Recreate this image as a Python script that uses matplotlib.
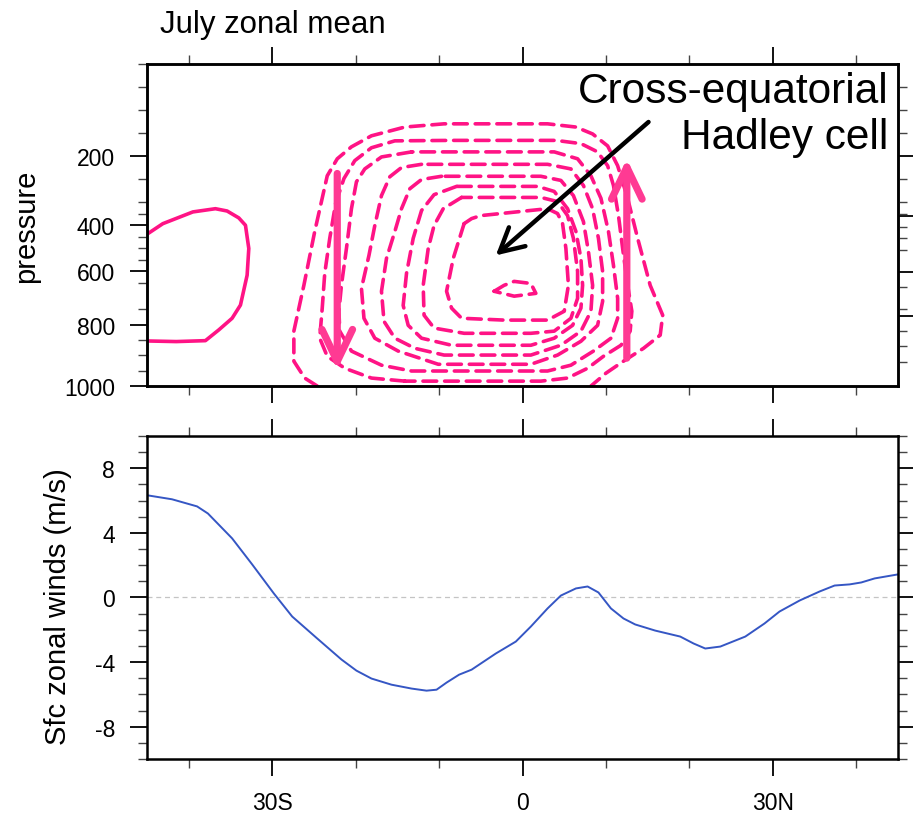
import numpy as np
import matplotlib
matplotlib.use('Agg')
from matplotlib import pyplot as plt
from matplotlib.ticker import FixedLocator, FuncFormatter, NullFormatter

plt.rcParams['font.family'] = ['Liberation Sans', 'DejaVu Sans']
plt.rcParams['axes.unicode_minus'] = False

# pressure levels of the data (axis is evenly spaced by level index)
levels_p = [0, 50, 100, 150, 200, 250, 300, 400, 500, 600, 700, 775, 850, 925, 1000]
level_idx = np.arange(len(levels_p))

# streamfunction contours (lat, hPa)
pos_lat = [-45.0, -43.1, -39.5, -36.8, -35.4, -34.0, -33.2, -32.8, -33.0, -33.8, -34.8, -36.4, -38.0, -41.5, -45.0]
pos_p = [440, 394, 343, 329, 339, 369, 401, 502, 618, 736, 779, 817, 852, 855, 853]

loop7_lat = [-24.6, -26.1, -27.4, -27.4, -26.2, -24.9, -23.4, -22.2, -20.5, -18.1, -14.1, -9.4, 3.0, 6.4, 8.4,
             10.2, 11.4, 12.6, 13.8, 15.3, 16.8, 16.5, 14.5, 12.1, 10.0, 8.2]
loop7_p = [1000, 974, 919, 821, 662, 428, 243, 206, 180, 156, 137, 130, 130, 137, 152,
           178, 221, 292, 458, 662, 769, 834, 877, 919, 958, 1000]
loop6_lat = [-14.1, -18.1, -21.3, -23.4, -24.3, -24.0, -23.7, -23.1, -22.4, -21.4, -20.1, -18.1, -15.3, -8.5, 4.0,
             7.0, 9.0, 10.2, 10.9, 11.5, 12.0, 12.6, 13.1, 12.9, 11.8, 9.7, 7.8, 5.4, 2.2]
loop6_p = [984, 974, 942, 903, 844, 746, 610, 458, 307, 249, 210, 182, 167, 166, 166,
           173, 191, 221, 264, 359, 502, 662, 756, 821, 867, 903, 942, 974, 984]
loop5_lat = [-13.3, -16.9, -18.9, -19.9, -20.5, -21.1, -21.7, -22.0, -21.9, -20.5, -16.9, -13.3,
             3.0, 5.8, 8.5, 10.6, 11.4, 11.4, 10.9, 10.3, 9.4, 8.2, 6.6, 3.8]
loop5_p = [191, 202, 228, 256, 329, 502, 662, 756, 821, 886, 932, 951,
           951, 932, 886, 844, 779, 714, 575, 428, 292, 243, 206, 191]
loop4_lat = [-12.1, -14.5, -15.9, -16.9, -17.7, -18.4, -19.3, -19.0, -17.7, -14.9, -10.1,
             1.0, 4.2, 7.0, 9.0, 9.6, 9.6, 9.1, 8.4, 7.3, 5.8, 3.0]
loop4_p = [218, 225, 245, 286, 402, 532, 675, 779, 844, 886, 929,
           929, 899, 854, 802, 724, 602, 458, 329, 264, 228, 218]
loop3_lat = [-9.7, -12.1, -13.5, -14.5, -15.3, -16.3, -16.9, -16.6, -15.3, -12.9, -9.4,
             1.0, 4.6, 7.0, 8.2, 8.4, 7.9, 7.3, 6.1, 4.6, 2.2]
loop3_p = [244, 251, 271, 329, 428, 545, 688, 789, 844, 877, 899,
           899, 867, 821, 756, 662, 515, 385, 286, 253, 244]
loop2_lat = [-7.9, -10.6, -12.1, -13.1, -13.9, -14.3, -13.7, -12.1, -8.5,
             1.0, 3.8, 6.0, 7.0, 7.2, 7.0, 6.4, 5.4, 3.8, 1.8]
loop2_p = [266, 284, 337, 458, 610, 737, 802, 844, 867,
           867, 844, 802, 746, 662, 545, 428, 329, 277, 266]
loop1_lat = [-7.3, -9.5, -10.6, -11.3, -11.9, -11.8, -10.6, -7.0,
             1.0, 3.8, 5.8, 6.6, 6.6, 6.1, 5.4, 4.2, 2.2]
loop1_p = [290, 329, 402, 502, 662, 769, 811, 828,
           828, 821, 779, 714, 602, 458, 359, 299, 290]
loop0_lat = [-7.0, -6.1, -5.0, 3.0, 4.2, 4.8, 5.2, 5.5, 5.0, 3.0, -2.2, -7.3, -8.5, -9.1, -8.3]
loop0_p = [394, 372, 359, 329, 350, 394, 502, 662, 756, 785, 785, 779, 746, 688, 545]
core_lat = [-3.4, -2.2, -1.0, 1.0, 1.6, -1.0]
core_p = [688, 662, 645, 654, 697, 707]

# arrows (lat, hPa)
down_lat = -22.2
down_p = [238, 947]
up_lat = 12.5
up_p = [909, 206]
label_arrow_lat = [15.1, -3.2]
label_arrow_p = [126, 532]

# surface zonal wind
wind_lat = [-45.0, -42.0, -39.0, -37.7, -34.8, -32.4, -29.8, -27.6, -24.6, -21.7, -19.9, -18.1, -15.7, -13.3,
            -11.5, -10.3, -9.1, -7.6, -6.1, -5.0, -3.2, -0.8, 1.0, 3.0, 4.6, 6.4, 7.8, 9.1, 10.6, 12.1,
            13.5, 15.9, 18.9, 20.5, 21.9, 23.7, 26.7, 29.0, 30.8, 33.2, 35.6, 37.4, 39.2, 40.6, 42.2, 45.0]
wind_u = [6.33, 6.08, 5.64, 5.20, 3.66, 2.05, 0.25, -1.18, -2.54, -3.84, -4.53, -5.02, -5.40, -5.64,
          -5.77, -5.71, -5.27, -4.78, -4.47, -4.09, -3.47, -2.73, -1.80, -0.68, 0.12, 0.56, 0.68, 0.31, -0.68, -1.30,
          -1.67, -2.05, -2.42, -2.85, -3.16, -3.04, -2.42, -1.61, -0.87, -0.19, 0.37, 0.74, 0.81, 0.93, 1.18, 1.43]

lat_major = [-30, 0, 30]
lat_labels = ['30S', '0', '30N']
lat_minor = [-40, -20, -10, 10, 20, 40]
p_major = [200, 400, 600, 800, 1000]
p_minor = [0, 50, 100, 150, 250, 300, 350, 450, 500, 550, 650, 750, 850, 900, 950]
p_right_major = [200, 362, 603, 773]
p_right_minor = [50, 100, 150, 250, 300, 350, 408, 458, 509, 668, 750, 822, 871, 920]

pink = '#FF1385'
arrow_pink = '#FF3A93'


def fwd(p):
    return np.interp(p, levels_p, level_idx)


def inv(i):
    return np.interp(i, level_idx, levels_p)


def style_ticks(ax):
    ax.tick_params(which='major', direction='out', length=12, width=1.3, labelsize=16.5, pad=11)
    ax.tick_params(which='minor', direction='out', length=6.5, width=1.0, color='#444444')
    for s in ax.spines.values():
        s.set_linewidth(1.8)


fig = plt.figure(figsize=(9.13, 8.2), dpi=100)
ax1 = fig.add_axes([0.1610, 0.5280, 0.8226, 0.3927])
ax2 = fig.add_axes([0.1610, 0.0732, 0.8226, 0.3939])

# ---- top panel ----
ax1.set_yscale('function', functions=(fwd, inv))
ax1.plot(pos_lat, pos_p, color=pink, lw=2.6, solid_joinstyle='round')
for la, pp in [(loop7_lat, loop7_p), (loop6_lat, loop6_p), (loop5_lat, loop5_p), (loop4_lat, loop4_p),
               (loop3_lat, loop3_p), (loop2_lat, loop2_p), (loop1_lat, loop1_p), (loop0_lat, loop0_p),
               (core_lat, core_p)]:
    la = list(la)
    pp = list(pp)
    if pp[0] != 1000:
        la = la + [la[0]]
        pp = pp + [pp[0]]
    ax1.plot(la, pp, color=pink, lw=2.6, dashes=(3.8, 2.2), dash_capstyle='round', dash_joinstyle='round')

ax1.annotate('', xy=(down_lat, down_p[1]), xytext=(down_lat, down_p[0]),
             arrowprops=dict(arrowstyle='->,head_length=2.3,head_width=1.1', color=arrow_pink, lw=5.2,
                             shrinkA=0, shrinkB=0, capstyle='round', joinstyle='round'))
ax1.annotate('', xy=(up_lat, up_p[1]), xytext=(up_lat, up_p[0]),
             arrowprops=dict(arrowstyle='->,head_length=2.3,head_width=1.1', color=arrow_pink, lw=5.2,
                             shrinkA=0, shrinkB=0, capstyle='round', joinstyle='round'))
ax1.annotate('', xy=(label_arrow_lat[1], label_arrow_p[1]), xytext=(label_arrow_lat[0], label_arrow_p[0]),
             arrowprops=dict(arrowstyle='->,head_length=1.7,head_width=0.9', color='black', lw=3.2,
                             shrinkA=0, shrinkB=0, capstyle='round', joinstyle='round'))
ax1.text(0.987, 0.978, 'Cross-equatorial\nHadley cell', transform=ax1.transAxes,
         ha='right', va='top', fontsize=30.5, linespacing=1.2)

ax1.set_xlim(-45, 45)
ax1.set_ylim(1000, 0)
ax1.xaxis.set_major_locator(FixedLocator(lat_major))
ax1.xaxis.set_minor_locator(FixedLocator(lat_minor))
ax1.xaxis.set_major_formatter(NullFormatter())
ax1.yaxis.set_major_locator(FixedLocator(p_major))
ax1.yaxis.set_minor_locator(FixedLocator(p_minor))
ax1.yaxis.set_major_formatter(FuncFormatter(lambda v, pos: '%d' % v))
ax1.yaxis.set_minor_formatter(NullFormatter())
style_ticks(ax1)
ax1.tick_params(which='both', top=True, bottom=True, left=True, right=False)
ax1.set_ylabel('pressure', fontsize=21)
ax1.yaxis.set_label_coords(-0.1425, 0.5)

ax1r = ax1.twinx()
ax1r.set_yscale('function', functions=(fwd, inv))
ax1r.set_ylim(1000, 0)
ax1r.yaxis.set_major_locator(FixedLocator(p_right_major))
ax1r.yaxis.set_minor_locator(FixedLocator(p_right_minor))
ax1r.yaxis.set_major_formatter(NullFormatter())
ax1r.yaxis.set_minor_formatter(NullFormatter())
style_ticks(ax1r)

# ---- bottom panel ----
ax2.axhline(0, color='#C4C4C4', lw=0.9, dashes=(4, 3))
ax2.plot(wind_lat, wind_u, color='#3556C4', lw=1.4)
ax2.set_xlim(-45, 45)
ax2.set_ylim(-10, 10)
ax2.xaxis.set_major_locator(FixedLocator(lat_major))
ax2.xaxis.set_minor_locator(FixedLocator(lat_minor))
ax2.set_xticklabels(lat_labels)
ax2.yaxis.set_major_locator(FixedLocator([-8, -4, 0, 4, 8]))
ax2.yaxis.set_minor_locator(FixedLocator(np.arange(-10, 11, 1)))
style_ticks(ax2)
ax2.tick_params(which='both', top=True, bottom=True, left=True, right=True)
ax2.set_ylabel('Sfc zonal winds (m/s)', fontsize=21)
ax2.yaxis.set_label_coords(-0.10, 0.474)

fig.text(160 / 913, 1 - 33 / 820, 'July zonal mean', fontsize=22.5, ha='left', va='baseline')

fig.savefig('out.png', dpi=100)
